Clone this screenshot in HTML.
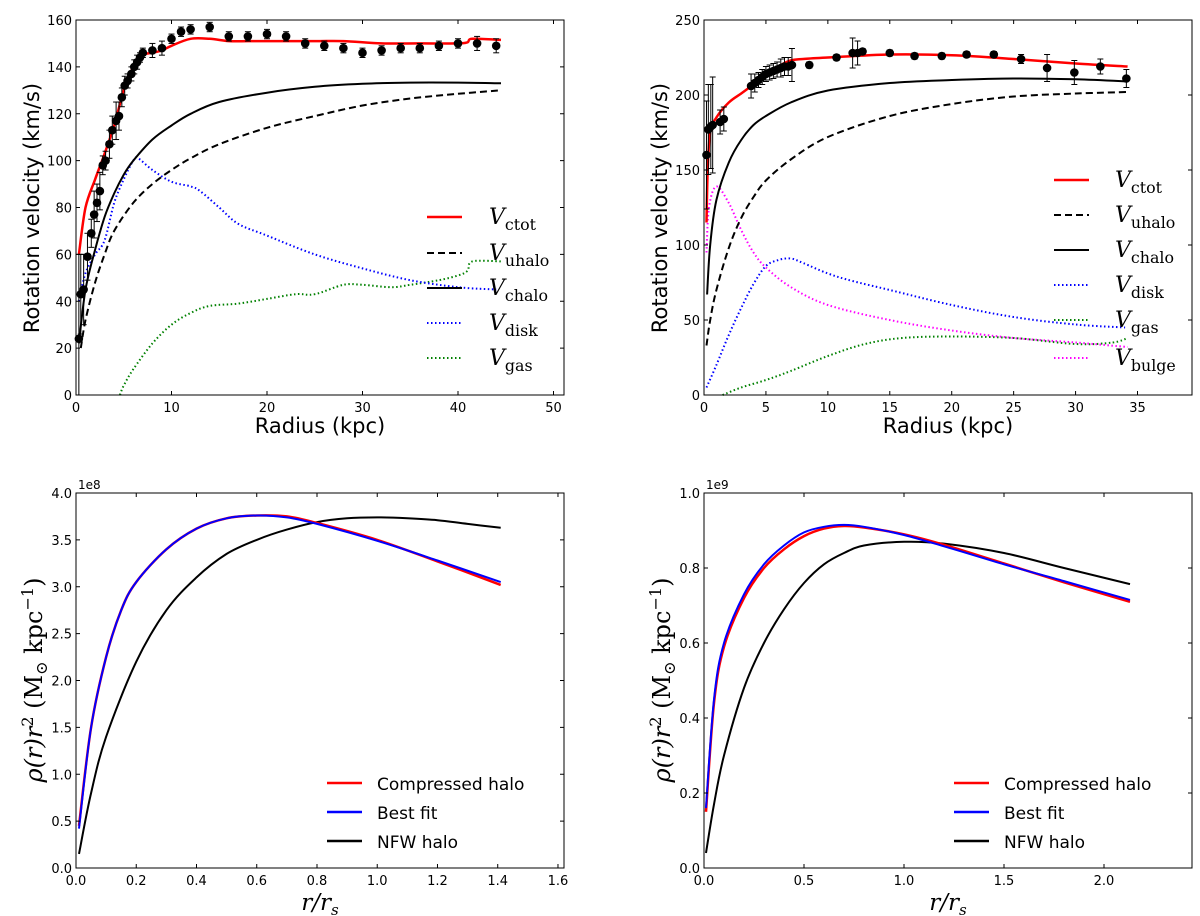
<!DOCTYPE html>
<html><head><meta charset="utf-8"><style>
body{margin:0;background:#fff}
svg{display:block}
text{font-family:"DejaVu Sans","Liberation Sans",sans-serif}
.tk{font-size:13px}
.ser{font-family:"DejaVu Serif","Liberation Serif",serif}
</style></head><body>
<svg id="fig" width="1200" height="916" viewBox="0 0 1200 916" xmlns="http://www.w3.org/2000/svg"></svg>
<script>
// ---- Panel A (top-left) data ----
const aCtotX=[0.3,1,2,3,4,5,6,7,8,9,10,12,14,16,18,20,25,28,32,36,40,41,41.5,44.5];
const aCtotY=[60,80,92,103,115,130,140,145,146,147,149,152,152,151,151,151,151,151,150,150,150,150.5,152,151.5];
const aPtX=[0.3,0.5,0.8,1.2,1.6,1.9,2.2,2.5,2.8,3.1,3.5,3.8,4.2,4.5,4.8,5.1,5.4,5.8,6.1,6.4,6.7,7,8,9,10,11,12,14,16,18,20,22,24,26,28,30,32,34,36,38,40,42,44];
const aPtY=[24,43,45,59,69,77,82,87,98,100,107,113,117,119,127,132,134,137,140,142,144,146,147,148,152,155,156,157,153,153,154,153,150,149,148,146,147,148,148,149,150,150,149];
const aPtE=[36,17,15,10,6,10,8,8,4,4,6,6,8,6,4,4,3,3,3,3,2,2,3,3,2,2,2,2,2,2,2,2,2,2,2,2,2,2,2,2,2,3,3];
const aChX=[0.3,1,2,3,4,5,6,8,10,12,15,20,25,30,35,40,44.5];
const aChY=[22,45,62,76,86,94,100,109,115,120,125,129,131.5,132.8,133.3,133.3,133];
const aUhX=[0.5,1,2,3,4,6,8,10,12,15,20,25,30,35,40,44.5];
const aUhY=[20,32,48,60,70,82,90,96,101,107,114,119,123.5,126.5,128.5,130];
const aDiskX=[0.3,1,2,3,4,5,6,6.5,8,10,12,13,15,17,20,25,30,35,40,44];
const aDiskY=[40,52,60,66,82,92,100,101,96,91,89,87,80,73,68,60,54,49,46,45];
const aGasX=[4.6,5,6,8,10,12,14,17,20,23,25,28,30,33,35,38,40,41,41.5,44.5];
const aGasY=[0,4,11,22,30,35,38,39,41,43,43,47,47,46,47,49,51,53,57,57];
const aXTicks=[0,10,20,30,40,50], aYTicks=[0,20,40,60,80,100,120,140,160];
// ---- Panel B (top-right) data ----
const bCtotX=[0.2,0.3,0.5,1,2,3,4,5,6,7,8,10,15,20,25,30,34.2];
const bCtotY=[115,150,175,185,195,201,207,213,219,223,224,225,227,226.5,224,221,219];
const bPtX=[0.2,0.35,0.55,0.7,1.3,1.6,3.8,4.1,4.4,4.7,5,5.3,5.6,5.9,6.2,6.5,6.8,7.1,8.5,10.7,12,12.4,12.8,15,17,19.2,21.2,23.4,25.6,27.7,29.9,32,34.1];
const bPtY=[160,177,179,180,182,184,206,208,210,212,214,215,216,217,218,219,219,220,220,225,228,228,229,228,226,226,227,227,224,218,215,219,211];
const bPtE=[36,30,28,32,8,8,8,6,5,5,5,5,5,5,6,6,6,11,2,2,10,8,2,2,2,2,2,2,3,9,8,5,6];
const bChX=[0.25,0.5,1,2,3,4,5,7,10,15,20,25,30,34.2];
const bChY=[67,100,130,155,170,180,186,195,203,208,210,211,210.5,209];
const bUhX=[0.2,0.5,1,2,3,4,5,7,10,15,20,25,30,34.2];
const bUhY=[33,50,70,98,118,132,143,157,172,186,194,199,201,202];
const bDiskX=[0.2,1,2,3,4,5,6,7,8,10,12,15,20,25,30,34];
const bDiskY=[5,20,40,58,74,86,90,91,88,81,76,70,60,52,47,45];
const bBulX=[0.2,0.4,1,2,3,4,5,7,10,15,20,25,30,34.2];
const bBulY=[95,125,139,128,110,95,85,72,60,50,43,38,35,32];
const bGasX=[1.5,3,5,7,10,13,16,20,25,30,33,34.2];
const bGasY=[0,5,10,16,26,34,38,39,38,34,35,38];
const bXTicks=[0,5,10,15,20,25,30,35], bYTicks=[0,50,100,150,200,250];
// ---- Panel C (bottom-left), y in 1e8 ----
const cX=[0.01,0.05,0.1,0.15,0.2,0.3,0.4,0.5,0.6,0.7,0.8,1.0,1.2,1.41];
const cComp=[0.45,1.5,2.25,2.75,3.05,3.4,3.62,3.73,3.76,3.75,3.68,3.5,3.27,3.02];
const cBest=[0.42,1.5,2.25,2.75,3.05,3.4,3.62,3.73,3.76,3.74,3.67,3.49,3.28,3.05];
const cNX=[0.01,0.05,0.1,0.2,0.3,0.4,0.5,0.6,0.7,0.8,0.9,1.0,1.1,1.2,1.3,1.41];
const cNfw=[0.15,0.8,1.4,2.2,2.75,3.1,3.35,3.5,3.61,3.69,3.73,3.74,3.73,3.71,3.67,3.63];
const cXTicks=["0.0","0.2","0.4","0.6","0.8","1.0","1.2","1.4","1.6"], cYTicks=["0.0","0.5","1.0","1.5","2.0","2.5","3.0","3.5","4.0"];
// ---- Panel D (bottom-right), y in 1e9 ----
const dX=[0.01,0.05,0.1,0.2,0.3,0.4,0.5,0.6,0.7,0.8,1.0,1.2,1.5,1.8,2.13];
const dComp=[0.15,0.44,0.59,0.72,0.8,0.85,0.885,0.905,0.912,0.908,0.89,0.862,0.812,0.762,0.71];
const dBest=[0.16,0.45,0.6,0.73,0.81,0.86,0.895,0.91,0.915,0.91,0.888,0.858,0.81,0.765,0.715];
const dNfw=[0.04,0.17,0.3,0.48,0.6,0.69,0.76,0.81,0.84,0.86,0.87,0.865,0.84,0.8,0.757];
const dXTicks=["0.0","0.5","1.0","1.5","2.0"], dYTicks=["0.0","0.2","0.4","0.6","0.8","1.0"];

const NS="http://www.w3.org/2000/svg", svg=document.getElementById('fig');
function mk(tag,attrs,parent){const e=document.createElementNS(NS,tag);for(const k in attrs)e.setAttribute(k,attrs[k]);(parent||svg).appendChild(e);return e;}
function panel(name,L,T,W,H,xmax,ymax){
  const g=mk('g',{});
  
  
  return {g,L,T,W,H,sx:v=>L+v/xmax*W,sy:v=>T+H-v/ymax*H};
}
function smoothPath(P){
  let d='M'+P[0][0].toFixed(1)+' '+P[0][1].toFixed(1);
  for(let i=0;i<P.length-1;i++){
    const p0=P[i-1]||P[i],p1=P[i],p2=P[i+1],p3=P[i+2]||P[i+1];
    const c1=[p1[0]+(p2[0]-p0[0])/6,p1[1]+(p2[1]-p0[1])/6];
    const c2=[p2[0]-(p3[0]-p1[0])/6,p2[1]-(p3[1]-p1[1])/6];
    d+=' C'+c1.map(v=>v.toFixed(1)).join(' ')+' '+c2.map(v=>v.toFixed(1)).join(' ')+' '+p2[0].toFixed(1)+' '+p2[1].toFixed(1);
  }
  return d;
}
function line(p,xs,ys,color,w,dash,name){
  const P=xs.map((x,i)=>[p.sx(x),p.sy(ys[i])]);
  const e=mk('path',{d:smoothPath(P),fill:'none',stroke:color,'stroke-width':w,'stroke-linejoin':'round'},p.g);
  if(dash)e.setAttribute('stroke-dasharray',dash);
  
  
}
function points(p,xs,ys,es,name){
  const g=mk('g',{},p.g);
  
  
  xs.forEach((x,i)=>{const cx=p.sx(x),y1=p.sy(Math.max(0,ys[i]-es[i])),y2=p.sy(ys[i]+es[i]);
    mk('line',{x1:cx,x2:cx,y1:y1,y2:y2,stroke:'#000','stroke-width':1},g);
    mk('line',{x1:cx-3,x2:cx+3,y1:y1,y2:y1,stroke:'#000','stroke-width':1},g);
    mk('line',{x1:cx-3,x2:cx+3,y1:y2,y2:y2,stroke:'#000','stroke-width':1},g);
    const c=mk('circle',{cx:cx,cy:p.sy(ys[i]),r:4.3,fill:'#000'},g);
    
    
  });
}
function axes(p,xt,yt){
  const {L,T,W,H,g}=p;
  const fr=mk('rect',{x:L,y:T,width:W,height:H,fill:'none',stroke:'#000','stroke-width':1},g);
  
  
  xt.forEach(t=>{const x=p.sx(parseFloat(t));
    mk('line',{x1:x,x2:x,y1:T+H,y2:T+H-4,stroke:'#000'},g);mk('line',{x1:x,x2:x,y1:T,y2:T+4,stroke:'#000'},g);
    const tx=mk('text',{x:x,y:T+H+17,'text-anchor':'middle',class:'tk'},g);tx.textContent=t;
    
    });
  yt.forEach(t=>{const y=p.sy(parseFloat(t));
    mk('line',{x1:L,x2:L+4,y1:y,y2:y,stroke:'#000'},g);mk('line',{x1:L+W,x2:L+W-4,y1:y,y2:y,stroke:'#000'},g);
    const tx=mk('text',{x:L-4,y:y+5,'text-anchor':'end',class:'tk'},g);tx.textContent=t;
    
    });
}
function legend(p,items,lx,tx,fs,serif){
  const g=mk('g',{},p.g);
  
  
  items.forEach(it=>{
    const l=mk('line',{x1:lx,x2:lx+35,y1:it.y,y2:it.y,stroke:it.c,'stroke-width':it.w},g);
    if(it.d)l.setAttribute('stroke-dasharray',it.d);
    const t=mk('text',{x:tx,y:it.y+7,'font-size':fs},g);
    
    
    if(serif){t.setAttribute('class','ser');
      const a=mk('tspan',{'font-style':'italic'},t);a.textContent='V';
      const b=mk('tspan',{dy:6,'font-size':fs*0.72},t);b.textContent=it.s;}
    else t.textContent=it.s;
  });
}
// Panel A
let A=panel('rotation-curve-left',76,20,488,375,51.1,160);
line(A,aGasX,aGasY,'#008000',2,'1.5 2.5','v-gas-line');
line(A,aDiskX,aDiskY,'#0000ff',2,'1.5 2.5','v-disk-line');
line(A,aUhX,aUhY,'#000',2,'7 4','v-uhalo-line');
line(A,aChX,aChY,'#000',2,null,'v-chalo-line');
line(A,aCtotX,aCtotY,'#ff0000',2.5,null,'v-ctot-line');
points(A,aPtX,aPtY,aPtE,'observed-points');
axes(A,aXTicks.map(String),aYTicks.map(String));
legend(A,[{y:217,c:'#f00',w:2.5,s:'ctot'},{y:253,c:'#000',w:2,d:'7 4',s:'uhalo'},{y:288,c:'#000',w:2,s:'chalo'},{y:323,c:'#00f',w:2,d:'1.5 2.5',s:'disk'},{y:358,c:'#008000',w:2,d:'1.5 2.5',s:'gas'}],427,489,22,true);
// Panel B
let B=panel('rotation-curve-right',704,20,488,375,39.4,250);
line(B,bGasX,bGasY,'#008000',2,'1.5 2.5','v-gas-line');
line(B,bBulX,bBulY,'#ff00ff',2,'1.5 2.5','v-bulge-line');
line(B,bDiskX,bDiskY,'#0000ff',2,'1.5 2.5','v-disk-line');
line(B,bUhX,bUhY,'#000',2,'7 4','v-uhalo-line');
line(B,bChX,bChY,'#000',2,null,'v-chalo-line');
line(B,bCtotX,bCtotY,'#ff0000',2.5,null,'v-ctot-line');
points(B,bPtX,bPtY,bPtE,'observed-points');
axes(B,bXTicks.map(String),bYTicks.map(String));
legend(B,[{y:180,c:'#f00',w:2.5,s:'ctot'},{y:215,c:'#000',w:2,d:'7 4',s:'uhalo'},{y:250,c:'#000',w:2,s:'chalo'},{y:285,c:'#00f',w:2,d:'1.5 2.5',s:'disk'},{y:320,c:'#008000',w:2,d:'1.5 2.5',s:'gas'},{y:358,c:'#f0f',w:2,d:'1.5 2.5',s:'bulge'}],1054,1115,22,true);
// Panel C
let C=panel('density-profile-left',76,493,488,375,1.62,4.0);
line(C,cNX,cNfw,'#000',2,null,'nfw-halo-line');
line(C,cX,cComp,'#ff0000',2.5,null,'compressed-halo-line');
line(C,cX,cBest,'#0000ff',2,null,'best-fit-line');
axes(C,cXTicks,cYTicks);
legend(C,[{y:783,c:'#f00',w:2.5,s:'Compressed halo'},{y:812,c:'#00f',w:2.5,s:'Best fit'},{y:841,c:'#000',w:2.5,s:'NFW halo'}],327,377,17,false);
// Panel D
let D=panel('density-profile-right',704,493,488,375,2.44,1.0);
line(D,dX,dNfw,'#000',2,null,'nfw-halo-line');
line(D,dX,dComp,'#ff0000',2.5,null,'compressed-halo-line');
line(D,dX,dBest,'#0000ff',2,null,'best-fit-line');
axes(D,dXTicks,dYTicks);
legend(D,[{y:783,c:'#f00',w:2.5,s:'Compressed halo'},{y:812,c:'#00f',w:2.5,s:'Best fit'},{y:841,c:'#000',w:2.5,s:'NFW halo'}],954,1004,17,false);
</script>
<svg style="position:absolute;left:0;top:0" width="1200" height="916" xmlns="http://www.w3.org/2000/svg">
<text x="320" y="433" text-anchor="middle" font-size="21">Radius (kpc)</text>
<text x="948" y="433" text-anchor="middle" font-size="21">Radius (kpc)</text>
<text transform="translate(39,208) rotate(-90)" text-anchor="middle" font-size="21">Rotation velocity (km/s)</text>
<text transform="translate(667,208) rotate(-90)" text-anchor="middle" font-size="21">Rotation velocity (km/s)</text>
<text x="78" y="489" font-size="12">1e8</text>
<text x="706" y="489" font-size="12">1e9</text>
<text class="ser" x="320" y="910" text-anchor="middle" font-size="23" font-style="italic">r/r<tspan dy="5" font-size="15">s</tspan></text>
<text class="ser" x="948" y="910" text-anchor="middle" font-size="23" font-style="italic">r/r<tspan dy="5" font-size="15">s</tspan></text>
<text class="ser" transform="translate(42,680) rotate(-90)" text-anchor="middle" font-size="24"><tspan font-style="italic">ρ(r)r</tspan><tspan dy="-9" font-size="16">2</tspan><tspan dy="9"> (M</tspan><tspan dy="5" font-size="16">⊙</tspan><tspan dy="-5"> kpc</tspan><tspan dy="-9" font-size="16">−1</tspan><tspan dy="9">)</tspan></text>
<text class="ser" transform="translate(670,680) rotate(-90)" text-anchor="middle" font-size="24"><tspan font-style="italic">ρ(r)r</tspan><tspan dy="-9" font-size="16">2</tspan><tspan dy="9"> (M</tspan><tspan dy="5" font-size="16">⊙</tspan><tspan dy="-5"> kpc</tspan><tspan dy="-9" font-size="16">−1</tspan><tspan dy="9">)</tspan></text>
</svg>
</body></html>
